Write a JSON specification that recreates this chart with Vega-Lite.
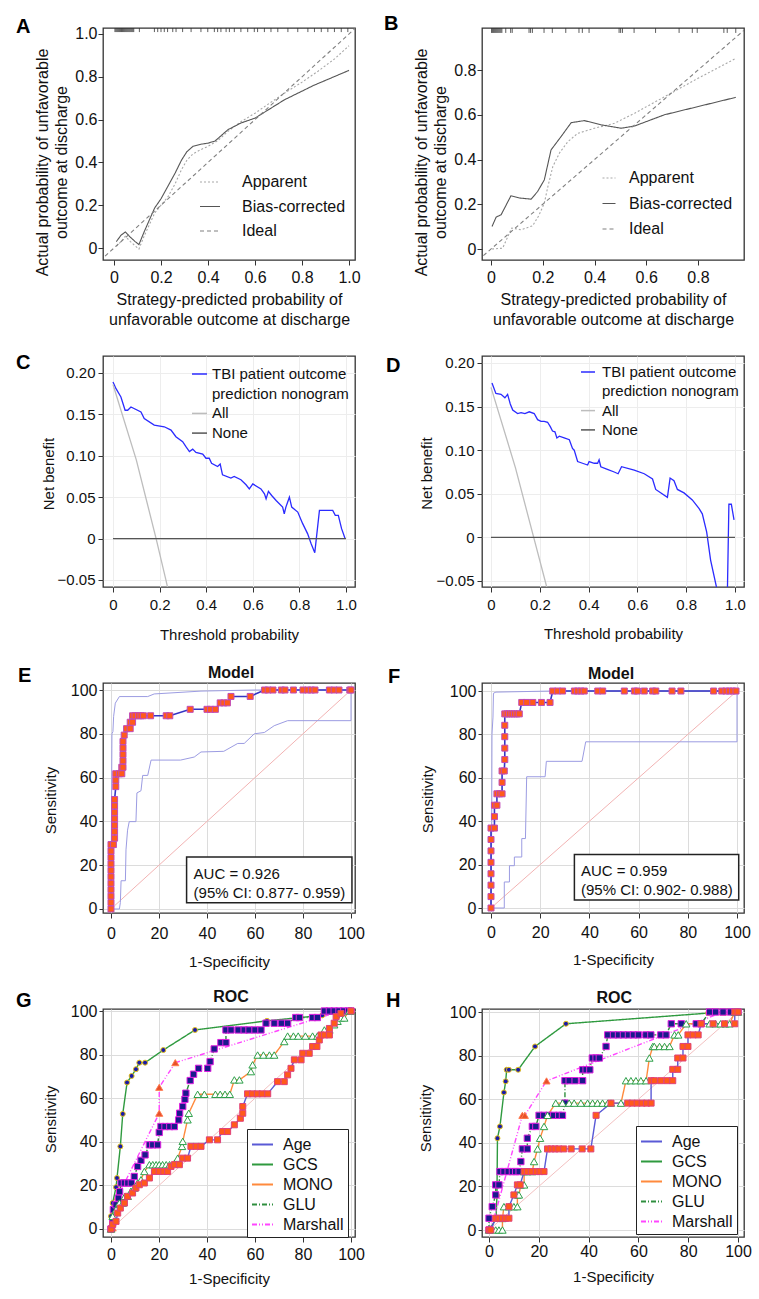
{
"$schema":"https://vega.github.io/schema/vega-lite/v6.json",
"padding":{"left":15,"top":12,"right":5,"bottom":5},
"columns":2,
"bounds":"flush",
"align":"each",
"spacing":{"row":96,"column":127},
"resolve":{"scale":{"color":"independent","strokeDash":"independent","shape":"independent","fill":"independent","stroke":"independent","size":"independent"},"legend":{"color":"independent","strokeDash":"independent","shape":"independent","fill":"independent","stroke":"independent","size":"independent"}},
"config":{
 "font":"Liberation Sans",
 "view":{"stroke":"#333333","strokeWidth":1.3},
 "axis":{"labelFont":"Liberation Sans","titleFont":"Liberation Sans","labelColor":"#111111","titleColor":"#111111","tickColor":"#333333","titleFontWeight":"normal","domain":false,"labelOverlap":false},
 "title":{"font":"Liberation Sans","fontSize":20,"fontWeight":"bold","anchor":"start","baseline":"alphabetic","offset":0,"frame":"group","color":"#000000"},
 "legend":{"labelFont":"Liberation Sans","labelColor":"#111111","labelLimit":300}
},
"datasets":{
 "calA":[
  {"s":"Apparent","x":0.01,"y":0.008},{"s":"Apparent","x":0.03,"y":0.03},{"s":"Apparent","x":0.048,"y":0.055},{"s":"Apparent","x":0.07,"y":0.03},{"s":"Apparent","x":0.09,"y":0.01},{"s":"Apparent","x":0.106,"y":-0.005},{"s":"Apparent","x":0.13,"y":0.06},{"s":"Apparent","x":0.173,"y":0.163},{"s":"Apparent","x":0.2,"y":0.2},{"s":"Apparent","x":0.23,"y":0.24},{"s":"Apparent","x":0.26,"y":0.3},{"s":"Apparent","x":0.287,"y":0.366},{"s":"Apparent","x":0.31,"y":0.41},{"s":"Apparent","x":0.336,"y":0.44},{"s":"Apparent","x":0.37,"y":0.46},{"s":"Apparent","x":0.4,"y":0.475},{"s":"Apparent","x":0.44,"y":0.5},{"s":"Apparent","x":0.485,"y":0.545},{"s":"Apparent","x":0.54,"y":0.59},{"s":"Apparent","x":0.6,"y":0.63},{"s":"Apparent","x":0.66,"y":0.675},{"s":"Apparent","x":0.726,"y":0.724},{"s":"Apparent","x":0.8,"y":0.775},{"s":"Apparent","x":0.868,"y":0.826},{"s":"Apparent","x":0.94,"y":0.885},{"s":"Apparent","x":1.0,"y":0.945},
  {"s":"Bias-corrected","x":0.01,"y":0.03},{"s":"Bias-corrected","x":0.03,"y":0.06},{"s":"Bias-corrected","x":0.048,"y":0.075},{"s":"Bias-corrected","x":0.07,"y":0.05},{"s":"Bias-corrected","x":0.09,"y":0.03},{"s":"Bias-corrected","x":0.106,"y":0.016},{"s":"Bias-corrected","x":0.13,"y":0.08},{"s":"Bias-corrected","x":0.173,"y":0.187},{"s":"Bias-corrected","x":0.2,"y":0.23},{"s":"Bias-corrected","x":0.23,"y":0.29},{"s":"Bias-corrected","x":0.26,"y":0.35},{"s":"Bias-corrected","x":0.287,"y":0.41},{"s":"Bias-corrected","x":0.31,"y":0.45},{"s":"Bias-corrected","x":0.336,"y":0.475},{"s":"Bias-corrected","x":0.37,"y":0.485},{"s":"Bias-corrected","x":0.4,"y":0.49},{"s":"Bias-corrected","x":0.43,"y":0.5},{"s":"Bias-corrected","x":0.485,"y":0.553},{"s":"Bias-corrected","x":0.54,"y":0.584},{"s":"Bias-corrected","x":0.6,"y":0.607},{"s":"Bias-corrected","x":0.726,"y":0.693},{"s":"Bias-corrected","x":0.85,"y":0.76},{"s":"Bias-corrected","x":1.0,"y":0.83},
  {"s":"Ideal","x":-0.06,"y":-0.06},{"s":"Ideal","x":1.04,"y":1.04}
 ],
 "calB":[
  {"s":"Apparent","x":0.004,"y":0.0},{"s":"Apparent","x":0.045,"y":0.004},{"s":"Apparent","x":0.08,"y":0.094},{"s":"Apparent","x":0.116,"y":0.086},{"s":"Apparent","x":0.161,"y":0.104},{"s":"Apparent","x":0.185,"y":0.15},{"s":"Apparent","x":0.206,"y":0.205},{"s":"Apparent","x":0.22,"y":0.28},{"s":"Apparent","x":0.239,"y":0.369},{"s":"Apparent","x":0.265,"y":0.43},{"s":"Apparent","x":0.297,"y":0.48},{"s":"Apparent","x":0.335,"y":0.517},{"s":"Apparent","x":0.4,"y":0.54},{"s":"Apparent","x":0.477,"y":0.562},{"s":"Apparent","x":0.555,"y":0.607},{"s":"Apparent","x":0.671,"y":0.681},{"s":"Apparent","x":0.8,"y":0.763},{"s":"Apparent","x":0.946,"y":0.852},
  {"s":"Bias-corrected","x":0.004,"y":0.101},{"s":"Bias-corrected","x":0.02,"y":0.143},{"s":"Bias-corrected","x":0.039,"y":0.153},{"s":"Bias-corrected","x":0.077,"y":0.238},{"s":"Bias-corrected","x":0.11,"y":0.228},{"s":"Bias-corrected","x":0.155,"y":0.223},{"s":"Bias-corrected","x":0.18,"y":0.257},{"s":"Bias-corrected","x":0.206,"y":0.309},{"s":"Bias-corrected","x":0.232,"y":0.443},{"s":"Bias-corrected","x":0.271,"y":0.503},{"s":"Bias-corrected","x":0.31,"y":0.565},{"s":"Bias-corrected","x":0.361,"y":0.574},{"s":"Bias-corrected","x":0.426,"y":0.555},{"s":"Bias-corrected","x":0.503,"y":0.54},{"s":"Bias-corrected","x":0.555,"y":0.55},{"s":"Bias-corrected","x":0.67,"y":0.6},{"s":"Bias-corrected","x":0.946,"y":0.678},
  {"s":"Ideal","x":-0.05,"y":-0.05},{"s":"Ideal","x":1.0,"y":1.0}
 ],
 "rugA":[{"x":0.004},{"x":0.008},{"x":0.012},{"x":0.016},{"x":0.02},{"x":0.024},{"x":0.028},{"x":0.032},{"x":0.036},{"x":0.04},{"x":0.044},{"x":0.048},{"x":0.052},{"x":0.056},{"x":0.06},{"x":0.064},{"x":0.068},{"x":0.072},{"x":0.076},{"x":0.08},{"x":0.084},{"x":0.108},{"x":0.172},{"x":0.186},{"x":0.2},{"x":0.214},{"x":0.228},{"x":0.25},{"x":0.264},{"x":0.292},{"x":0.328},{"x":0.37},{"x":0.399},{"x":0.427},{"x":0.441},{"x":0.455},{"x":0.477},{"x":0.491},{"x":0.512},{"x":0.54},{"x":0.569},{"x":0.597},{"x":0.611},{"x":0.64},{"x":0.668},{"x":0.697},{"x":0.74},{"x":0.782},{"x":0.825},{"x":0.853},{"x":0.882},{"x":0.91},{"x":0.938},{"x":0.967},{"x":0.995}],
 "rugB":[{"x":0.002},{"x":0.006},{"x":0.01},{"x":0.014},{"x":0.018},{"x":0.022},{"x":0.026},{"x":0.03},{"x":0.034},{"x":0.038},{"x":0.042},{"x":0.057},{"x":0.076},{"x":0.082},{"x":0.147},{"x":0.153},{"x":0.16},{"x":0.205},{"x":0.237},{"x":0.289},{"x":0.34},{"x":0.353},{"x":0.379},{"x":0.495},{"x":0.501},{"x":0.508},{"x":0.553},{"x":0.636},{"x":0.727},{"x":0.778},{"x":0.797},{"x":0.9},{"x":0.913},{"x":0.946}],
 "netC":[
  {"s":"TBI patient outcome prediction nonogram","x":0,"y":0.189},{"s":"TBI patient outcome prediction nonogram","x":0.013,"y":0.181},{"s":"TBI patient outcome prediction nonogram","x":0.034,"y":0.171},{"s":"TBI patient outcome prediction nonogram","x":0.052,"y":0.155},{"s":"TBI patient outcome prediction nonogram","x":0.063,"y":0.155},{"s":"TBI patient outcome prediction nonogram","x":0.077,"y":0.159},{"s":"TBI patient outcome prediction nonogram","x":0.12,"y":0.153},{"s":"TBI patient outcome prediction nonogram","x":0.134,"y":0.145},{"s":"TBI patient outcome prediction nonogram","x":0.177,"y":0.137},{"s":"TBI patient outcome prediction nonogram","x":0.22,"y":0.135},{"s":"TBI patient outcome prediction nonogram","x":0.249,"y":0.131},{"s":"TBI patient outcome prediction nonogram","x":0.27,"y":0.123},{"s":"TBI patient outcome prediction nonogram","x":0.299,"y":0.117},{"s":"TBI patient outcome prediction nonogram","x":0.313,"y":0.111},{"s":"TBI patient outcome prediction nonogram","x":0.328,"y":0.105},{"s":"TBI patient outcome prediction nonogram","x":0.342,"y":0.108},{"s":"TBI patient outcome prediction nonogram","x":0.356,"y":0.104},{"s":"TBI patient outcome prediction nonogram","x":0.385,"y":0.102},{"s":"TBI patient outcome prediction nonogram","x":0.399,"y":0.097},{"s":"TBI patient outcome prediction nonogram","x":0.413,"y":0.097},{"s":"TBI patient outcome prediction nonogram","x":0.423,"y":0.091},{"s":"TBI patient outcome prediction nonogram","x":0.449,"y":0.087},{"s":"TBI patient outcome prediction nonogram","x":0.46,"y":0.09},{"s":"TBI patient outcome prediction nonogram","x":0.47,"y":0.077},{"s":"TBI patient outcome prediction nonogram","x":0.506,"y":0.073},{"s":"TBI patient outcome prediction nonogram","x":0.52,"y":0.075},{"s":"TBI patient outcome prediction nonogram","x":0.549,"y":0.071},{"s":"TBI patient outcome prediction nonogram","x":0.571,"y":0.065},{"s":"TBI patient outcome prediction nonogram","x":0.585,"y":0.06},{"s":"TBI patient outcome prediction nonogram","x":0.6,"y":0.066},{"s":"TBI patient outcome prediction nonogram","x":0.635,"y":0.06},{"s":"TBI patient outcome prediction nonogram","x":0.65,"y":0.054},{"s":"TBI patient outcome prediction nonogram","x":0.657,"y":0.048},{"s":"TBI patient outcome prediction nonogram","x":0.667,"y":0.057},{"s":"TBI patient outcome prediction nonogram","x":0.681,"y":0.052},{"s":"TBI patient outcome prediction nonogram","x":0.7,"y":0.046},{"s":"TBI patient outcome prediction nonogram","x":0.728,"y":0.038},{"s":"TBI patient outcome prediction nonogram","x":0.735,"y":0.03},{"s":"TBI patient outcome prediction nonogram","x":0.742,"y":0.038},{"s":"TBI patient outcome prediction nonogram","x":0.757,"y":0.05},{"s":"TBI patient outcome prediction nonogram","x":0.767,"y":0.038},{"s":"TBI patient outcome prediction nonogram","x":0.793,"y":0.032},{"s":"TBI patient outcome prediction nonogram","x":0.814,"y":0.018},{"s":"TBI patient outcome prediction nonogram","x":0.835,"y":0.006},{"s":"TBI patient outcome prediction nonogram","x":0.85,"y":-0.006},{"s":"TBI patient outcome prediction nonogram","x":0.866,"y":-0.017},{"s":"TBI patient outcome prediction nonogram","x":0.886,"y":0.034},{"s":"TBI patient outcome prediction nonogram","x":0.943,"y":0.034},{"s":"TBI patient outcome prediction nonogram","x":0.954,"y":0.028},{"s":"TBI patient outcome prediction nonogram","x":0.967,"y":0.028},{"s":"TBI patient outcome prediction nonogram","x":0.981,"y":0.012},{"s":"TBI patient outcome prediction nonogram","x":0.996,"y":0.0},
  {"s":"All","x":0,"y":0.186},{"s":"All","x":0.1,"y":0.095},{"s":"All","x":0.185,"y":0.0},{"s":"All","x":0.227,"y":-0.05},{"s":"All","x":0.24,"y":-0.066},
  {"s":"None","x":0,"y":0},{"s":"None","x":1.0,"y":0}
 ],
 "netD":[
  {"s":"TBI patient outcome prediction nonogram","x":0.004,"y":0.177},{"s":"TBI patient outcome prediction nonogram","x":0.02,"y":0.165},{"s":"TBI patient outcome prediction nonogram","x":0.041,"y":0.164},{"s":"TBI patient outcome prediction nonogram","x":0.057,"y":0.16},{"s":"TBI patient outcome prediction nonogram","x":0.068,"y":0.164},{"s":"TBI patient outcome prediction nonogram","x":0.079,"y":0.153},{"s":"TBI patient outcome prediction nonogram","x":0.089,"y":0.146},{"s":"TBI patient outcome prediction nonogram","x":0.109,"y":0.142},{"s":"TBI patient outcome prediction nonogram","x":0.123,"y":0.143},{"s":"TBI patient outcome prediction nonogram","x":0.139,"y":0.142},{"s":"TBI patient outcome prediction nonogram","x":0.157,"y":0.144},{"s":"TBI patient outcome prediction nonogram","x":0.177,"y":0.142},{"s":"TBI patient outcome prediction nonogram","x":0.191,"y":0.135},{"s":"TBI patient outcome prediction nonogram","x":0.205,"y":0.133},{"s":"TBI patient outcome prediction nonogram","x":0.218,"y":0.133},{"s":"TBI patient outcome prediction nonogram","x":0.232,"y":0.132},{"s":"TBI patient outcome prediction nonogram","x":0.243,"y":0.127},{"s":"TBI patient outcome prediction nonogram","x":0.252,"y":0.122},{"s":"TBI patient outcome prediction nonogram","x":0.262,"y":0.121},{"s":"TBI patient outcome prediction nonogram","x":0.27,"y":0.114},{"s":"TBI patient outcome prediction nonogram","x":0.28,"y":0.116},{"s":"TBI patient outcome prediction nonogram","x":0.3,"y":0.114},{"s":"TBI patient outcome prediction nonogram","x":0.321,"y":0.112},{"s":"TBI patient outcome prediction nonogram","x":0.334,"y":0.102},{"s":"TBI patient outcome prediction nonogram","x":0.341,"y":0.1},{"s":"TBI patient outcome prediction nonogram","x":0.355,"y":0.087},{"s":"TBI patient outcome prediction nonogram","x":0.375,"y":0.085},{"s":"TBI patient outcome prediction nonogram","x":0.396,"y":0.083},{"s":"TBI patient outcome prediction nonogram","x":0.402,"y":0.087},{"s":"TBI patient outcome prediction nonogram","x":0.423,"y":0.085},{"s":"TBI patient outcome prediction nonogram","x":0.437,"y":0.085},{"s":"TBI patient outcome prediction nonogram","x":0.443,"y":0.089},{"s":"TBI patient outcome prediction nonogram","x":0.45,"y":0.081},{"s":"TBI patient outcome prediction nonogram","x":0.477,"y":0.078},{"s":"TBI patient outcome prediction nonogram","x":0.505,"y":0.075},{"s":"TBI patient outcome prediction nonogram","x":0.521,"y":0.073},{"s":"TBI patient outcome prediction nonogram","x":0.535,"y":0.081},{"s":"TBI patient outcome prediction nonogram","x":0.587,"y":0.077},{"s":"TBI patient outcome prediction nonogram","x":0.628,"y":0.073},{"s":"TBI patient outcome prediction nonogram","x":0.662,"y":0.067},{"s":"TBI patient outcome prediction nonogram","x":0.675,"y":0.055},{"s":"TBI patient outcome prediction nonogram","x":0.723,"y":0.046},{"s":"TBI patient outcome prediction nonogram","x":0.734,"y":0.068},{"s":"TBI patient outcome prediction nonogram","x":0.75,"y":0.065},{"s":"TBI patient outcome prediction nonogram","x":0.764,"y":0.055},{"s":"TBI patient outcome prediction nonogram","x":0.791,"y":0.051},{"s":"TBI patient outcome prediction nonogram","x":0.825,"y":0.043},{"s":"TBI patient outcome prediction nonogram","x":0.853,"y":0.033},{"s":"TBI patient outcome prediction nonogram","x":0.866,"y":0.027},{"s":"TBI patient outcome prediction nonogram","x":0.884,"y":0.006},{"s":"TBI patient outcome prediction nonogram","x":0.9,"y":-0.026},{"s":"TBI patient outcome prediction nonogram","x":0.928,"y":-0.062},{"s":"TBI patient outcome prediction nonogram","x":0.945,"y":-0.1},{"s":"TBI patient outcome prediction nonogram","x":0.965,"y":-0.1},{"s":"TBI patient outcome prediction nonogram","x":0.969,"y":-0.06},{"s":"TBI patient outcome prediction nonogram","x":0.975,"y":0.038},{"s":"TBI patient outcome prediction nonogram","x":0.985,"y":0.038},{"s":"TBI patient outcome prediction nonogram","x":0.996,"y":0.02},
  {"s":"All","x":0,"y":0.172},{"s":"All","x":0.1,"y":0.08},{"s":"All","x":0.175,"y":0.0},{"s":"All","x":0.222,"y":-0.05},{"s":"All","x":0.235,"y":-0.064},
  {"s":"None","x":0,"y":0},{"s":"None","x":1.0,"y":0}
 ],
 "diag":[{"x":0,"y":0},{"x":100,"y":100}],
 "rocE":[{"x":0,"y":0},{"x":0,"y":2.94},{"x":0,"y":5.88},{"x":0,"y":8.82},{"x":0,"y":11.76},{"x":0,"y":14.71},{"x":0,"y":17.65},{"x":0,"y":20.59},{"x":0,"y":23.53},{"x":0,"y":26.47},{"x":0,"y":29.41},{"x":1.0,"y":29.41},{"x":1.5,"y":32.35},{"x":1.5,"y":35.29},{"x":1.5,"y":38.24},{"x":1.5,"y":41.18},{"x":1.5,"y":44.12},{"x":1.5,"y":47.06},{"x":1.5,"y":50},{"x":2.0,"y":55.88},{"x":2.0,"y":58.82},{"x":2.0,"y":61.76},{"x":3.5,"y":61.76},{"x":4.5,"y":61.76},{"x":4.5,"y":64.71},{"x":5.0,"y":64.71},{"x":5.0,"y":67.65},{"x":5.0,"y":70.59},{"x":5.0,"y":73.53},{"x":5.0,"y":76.47},{"x":5.5,"y":79.41},{"x":6.5,"y":82.35},{"x":8.0,"y":82.35},{"x":8.0,"y":85.29},{"x":9.0,"y":85.29},{"x":9.0,"y":88.24},{"x":10,"y":88.24},{"x":11.5,"y":88.24},{"x":12.5,"y":88.24},{"x":13.5,"y":88.24},{"x":16.5,"y":88.24},{"x":23,"y":88.24},{"x":24.5,"y":88.24},{"x":33,"y":91.18},{"x":40,"y":91.18},{"x":41.5,"y":91.18},{"x":43.5,"y":91.18},{"x":45.5,"y":94.12},{"x":47,"y":94.12},{"x":48.5,"y":94.12},{"x":50,"y":97.06},{"x":58,"y":97.06},{"x":64,"y":100},{"x":65.5,"y":100},{"x":67.5,"y":100},{"x":71,"y":100},{"x":72.5,"y":100},{"x":76,"y":100},{"x":80,"y":100},{"x":82,"y":100},{"x":83.5,"y":100},{"x":85,"y":100},{"x":91,"y":100},{"x":93,"y":100},{"x":95,"y":100},{"x":99.5,"y":100},{"x":100,"y":100}],
 "ciE":[{"b":"upper","x":0,"y":0},{"b":"upper","x":0.2,"y":40},{"b":"upper","x":0.4,"y":80},{"b":"upper","x":0.8,"y":81},{"b":"upper","x":1.1,"y":88},{"b":"upper","x":1.8,"y":94},{"b":"upper","x":3.5,"y":97},{"b":"upper","x":15.3,"y":97},{"b":"upper","x":18,"y":98.2},{"b":"upper","x":37.5,"y":99.5},{"b":"upper","x":60,"y":100},{"b":"upper","x":100,"y":100},
  {"b":"lower","x":0,"y":0},{"b":"lower","x":3.5,"y":0},{"b":"lower","x":3.9,"y":2.9},{"b":"lower","x":4.2,"y":12.9},{"b":"lower","x":6,"y":12.9},{"b":"lower","x":6.25,"y":27},{"b":"lower","x":6.9,"y":36},{"b":"lower","x":7.6,"y":39.9},{"b":"lower","x":10.4,"y":39.9},{"b":"lower","x":10.8,"y":53},{"b":"lower","x":12.5,"y":54},{"b":"lower","x":13.2,"y":61},{"b":"lower","x":15.3,"y":61},{"b":"lower","x":16.7,"y":68},{"b":"lower","x":29,"y":68},{"b":"lower","x":34.7,"y":69.4},{"b":"lower","x":37.5,"y":71.7},{"b":"lower","x":47,"y":72},{"b":"lower","x":52.8,"y":75.6},{"b":"lower","x":55.5,"y":75.6},{"b":"lower","x":59.7,"y":80},{"b":"lower","x":63.9,"y":80.6},{"b":"lower","x":68,"y":83.7},{"b":"lower","x":73.6,"y":86},{"b":"lower","x":100,"y":86},{"b":"lower","x":100,"y":100}],
 "rocF":[{"x":0,"y":0},{"x":0,"y":5.26},{"x":0,"y":10.53},{"x":0,"y":15.79},{"x":0,"y":21.05},{"x":0,"y":26.32},{"x":0,"y":31.58},{"x":0,"y":36.84},{"x":1.4,"y":36.84},{"x":1.4,"y":42.11},{"x":1.4,"y":47.37},{"x":2.4,"y":47.37},{"x":2.4,"y":52.63},{"x":3.5,"y":52.63},{"x":4.5,"y":52.63},{"x":4.5,"y":57.89},{"x":4.5,"y":63.16},{"x":5.4,"y":63.16},{"x":5.6,"y":68.42},{"x":5.6,"y":73.68},{"x":5.6,"y":78.95},{"x":5.6,"y":84.21},{"x":5.6,"y":89.47},{"x":6.5,"y":89.47},{"x":7.5,"y":89.47},{"x":8.5,"y":89.47},{"x":9.5,"y":89.47},{"x":10.5,"y":89.47},{"x":11.5,"y":89.47},{"x":12.5,"y":94.74},{"x":14.5,"y":94.74},{"x":17,"y":94.74},{"x":20.5,"y":94.74},{"x":24,"y":94.74},{"x":25.1,"y":100},{"x":27.1,"y":100},{"x":29.1,"y":100},{"x":33.9,"y":100},{"x":35.2,"y":100},{"x":36.6,"y":100},{"x":37.9,"y":100},{"x":43.4,"y":100},{"x":45.4,"y":100},{"x":54.2,"y":100},{"x":58.3,"y":100},{"x":59.5,"y":100},{"x":62.3,"y":100},{"x":65.7,"y":100},{"x":67,"y":100},{"x":73.6,"y":100},{"x":77.2,"y":100},{"x":90.5,"y":100},{"x":93.8,"y":100},{"x":95.5,"y":100},{"x":96.9,"y":100},{"x":98.2,"y":100},{"x":99.6,"y":100}],
 "ciF":[{"b":"upper","x":0,"y":0},{"b":"upper","x":0.3,"y":40},{"b":"upper","x":0.4,"y":80},{"b":"upper","x":0.8,"y":88},{"b":"upper","x":1.0,"y":99},{"b":"upper","x":2,"y":99.5},{"b":"upper","x":25,"y":100},{"b":"upper","x":100,"y":100},
  {"b":"lower","x":0,"y":0},{"b":"lower","x":5.4,"y":0},{"b":"lower","x":5.4,"y":12},{"b":"lower","x":7.5,"y":12},{"b":"lower","x":7.5,"y":19.5},{"b":"lower","x":9.5,"y":19.5},{"b":"lower","x":9.5,"y":23.5},{"b":"lower","x":12.5,"y":23.5},{"b":"lower","x":12.5,"y":32},{"b":"lower","x":14,"y":32},{"b":"lower","x":14.5,"y":60.5},{"b":"lower","x":22,"y":60.5},{"b":"lower","x":22.5,"y":67.6},{"b":"lower","x":37,"y":67.6},{"b":"lower","x":38.5,"y":76.6},{"b":"lower","x":100,"y":76.6},{"b":"lower","x":100,"y":100}],
 "rocG":[
  {"s":"GCS","x":0,"y":0},{"s":"GCS","x":0,"y":5.9},{"s":"GCS","x":0.7,"y":11.9},{"s":"GCS","x":2.1,"y":19.2},{"s":"GCS","x":2.5,"y":23.4},{"s":"GCS","x":3.9,"y":37.9},{"s":"GCS","x":4.9,"y":52.8},{"s":"GCS","x":6.7,"y":67.2},{"s":"GCS","x":8.6,"y":70.2},{"s":"GCS","x":10.4,"y":73.3},{"s":"GCS","x":11.8,"y":76.3},{"s":"GCS","x":14.2,"y":76.3},{"s":"GCS","x":21.8,"y":82.1},{"s":"GCS","x":35,"y":91.3},{"s":"GCS","x":65,"y":95.5},{"s":"GCS","x":88,"y":98},{"s":"GCS","x":100,"y":100},
  {"s":"Marshall","x":0,"y":0},{"s":"Marshall","x":0.7,"y":0.5},{"s":"Marshall","x":2.8,"y":14.8},{"s":"Marshall","x":20.1,"y":53.1},{"s":"Marshall","x":20.1,"y":65},{"s":"Marshall","x":26.8,"y":76.3},{"s":"Marshall","x":95.8,"y":100},{"s":"Marshall","x":100,"y":100},
  {"s":"GLU","x":0,"y":0},{"s":"GLU","x":0.7,"y":2.7},{"s":"GLU","x":1,"y":8.9},{"s":"GLU","x":2.1,"y":11.1},{"s":"GLU","x":3.1,"y":14.2},{"s":"GLU","x":3.6,"y":17.1},{"s":"GLU","x":4.2,"y":21.1},{"s":"GLU","x":5.6,"y":21.1},{"s":"GLU","x":7,"y":21.1},{"s":"GLU","x":8.5,"y":21.1},{"s":"GLU","x":9.7,"y":24.1},{"s":"GLU","x":11.1,"y":28.7},{"s":"GLU","x":12.5,"y":31.5},{"s":"GLU","x":14.2,"y":34},{"s":"GLU","x":16,"y":38.6},{"s":"GLU","x":17.4,"y":38.6},{"s":"GLU","x":19.4,"y":38.6},{"s":"GLU","x":20.1,"y":44.3},{"s":"GLU","x":20.8,"y":47},{"s":"GLU","x":22.5,"y":47},{"s":"GLU","x":24.5,"y":47},{"s":"GLU","x":26.4,"y":47},{"s":"GLU","x":28.2,"y":50},{"s":"GLU","x":28.6,"y":53.1},{"s":"GLU","x":29.9,"y":56.2},{"s":"GLU","x":30.8,"y":59.5},{"s":"GLU","x":31.2,"y":62.3},{"s":"GLU","x":33,"y":68.1},{"s":"GLU","x":34.4,"y":71},{"s":"GLU","x":36.5,"y":73.7},{"s":"GLU","x":40.3,"y":73.7},{"s":"GLU","x":41.3,"y":76.8},{"s":"GLU","x":43,"y":82.6},{"s":"GLU","x":45.8,"y":85.5},{"s":"GLU","x":47.9,"y":85.5},{"s":"GLU","x":47.9,"y":91.3},{"s":"GLU","x":50,"y":91.3},{"s":"GLU","x":53,"y":91.3},{"s":"GLU","x":55.5,"y":91.3},{"s":"GLU","x":57.5,"y":91.3},{"s":"GLU","x":60,"y":91.3},{"s":"GLU","x":62.5,"y":91.3},{"s":"GLU","x":64.6,"y":94.4},{"s":"GLU","x":68,"y":94.4},{"s":"GLU","x":71,"y":94.4},{"s":"GLU","x":73.6,"y":94.4},{"s":"GLU","x":77,"y":97},{"s":"GLU","x":78.5,"y":97},{"s":"GLU","x":84,"y":97},{"s":"GLU","x":86,"y":97},{"s":"GLU","x":88.9,"y":100},{"s":"GLU","x":91,"y":100},{"s":"GLU","x":93,"y":100},{"s":"GLU","x":95,"y":100},{"s":"GLU","x":97,"y":100},{"s":"GLU","x":99,"y":100},{"s":"GLU","x":100,"y":100},
  {"s":"MONO","x":0,"y":0},{"s":"MONO","x":0.7,"y":5.8},{"s":"MONO","x":2.1,"y":8.9},{"s":"MONO","x":3.5,"y":11.9},{"s":"MONO","x":4.9,"y":11.9},{"s":"MONO","x":5.8,"y":15},{"s":"MONO","x":7,"y":15},{"s":"MONO","x":8.3,"y":17.3},{"s":"MONO","x":9.7,"y":18.8},{"s":"MONO","x":11.1,"y":21.1},{"s":"MONO","x":12.5,"y":22.6},{"s":"MONO","x":13.9,"y":26.4},{"s":"MONO","x":16,"y":29.5},{"s":"MONO","x":17.4,"y":29.5},{"s":"MONO","x":18.8,"y":29.5},{"s":"MONO","x":20.1,"y":29.5},{"s":"MONO","x":21.5,"y":29.5},{"s":"MONO","x":23,"y":29.5},{"s":"MONO","x":24.4,"y":29.5},{"s":"MONO","x":27.8,"y":32.5},{"s":"MONO","x":29.6,"y":37.9},{"s":"MONO","x":29.9,"y":40.2},{"s":"MONO","x":31.9,"y":50.1},{"s":"MONO","x":32.4,"y":53.1},{"s":"MONO","x":36.1,"y":61.8},{"s":"MONO","x":38.9,"y":61.8},{"s":"MONO","x":43.5,"y":61.8},{"s":"MONO","x":45.5,"y":61.8},{"s":"MONO","x":47.5,"y":61.8},{"s":"MONO","x":49.5,"y":61.8},{"s":"MONO","x":51.4,"y":68.4},{"s":"MONO","x":53.5,"y":68.4},{"s":"MONO","x":58.3,"y":72.2},{"s":"MONO","x":59,"y":75.3},{"s":"MONO","x":61.1,"y":79.8},{"s":"MONO","x":63.5,"y":79.8},{"s":"MONO","x":66,"y":79.8},{"s":"MONO","x":68,"y":79.8},{"s":"MONO","x":72.2,"y":86},{"s":"MONO","x":73.6,"y":88.5},{"s":"MONO","x":76,"y":88.5},{"s":"MONO","x":78,"y":88.5},{"s":"MONO","x":81,"y":88.5},{"s":"MONO","x":84,"y":88.5},{"s":"MONO","x":86,"y":88.5},{"s":"MONO","x":88.9,"y":91.3},{"s":"MONO","x":91,"y":91.3},{"s":"MONO","x":93,"y":93.7},{"s":"MONO","x":94.4,"y":95.3},{"s":"MONO","x":95.8,"y":96.8},{"s":"MONO","x":97.2,"y":96.8},{"s":"MONO","x":99.3,"y":100},{"s":"MONO","x":100,"y":100},
  {"s":"Age","x":0,"y":0},{"s":"Age","x":0.7,"y":2},{"s":"Age","x":2.1,"y":3.5},{"s":"Age","x":2.8,"y":7.3},{"s":"Age","x":3.9,"y":9.6},{"s":"Age","x":5.6,"y":11.9},{"s":"Age","x":6.9,"y":15},{"s":"Age","x":9,"y":16.5},{"s":"Age","x":10.4,"y":18.8},{"s":"Age","x":11.8,"y":20.3},{"s":"Age","x":13.9,"y":21.1},{"s":"Age","x":16,"y":23.4},{"s":"Age","x":18.1,"y":26.4},{"s":"Age","x":20.1,"y":26.4},{"s":"Age","x":22,"y":26.4},{"s":"Age","x":23.6,"y":26.4},{"s":"Age","x":25,"y":28.7},{"s":"Age","x":26.4,"y":29.5},{"s":"Age","x":28.5,"y":29.5},{"s":"Age","x":29.9,"y":32.5},{"s":"Age","x":31.9,"y":32.5},{"s":"Age","x":33.3,"y":37.9},{"s":"Age","x":35.5,"y":37.9},{"s":"Age","x":37.5,"y":37.9},{"s":"Age","x":41,"y":40.9},{"s":"Age","x":44.4,"y":40.9},{"s":"Age","x":46.5,"y":44.7},{"s":"Age","x":48.6,"y":44.7},{"s":"Age","x":51.4,"y":47.8},{"s":"Age","x":53.9,"y":50.8},{"s":"Age","x":54.9,"y":53.1},{"s":"Age","x":54.9,"y":56.2},{"s":"Age","x":56.9,"y":62},{"s":"Age","x":59,"y":62},{"s":"Age","x":61,"y":62},{"s":"Age","x":63,"y":62},{"s":"Age","x":65.3,"y":62},{"s":"Age","x":69.4,"y":67.6},{"s":"Age","x":72.2,"y":67.6},{"s":"Age","x":73.6,"y":70.7},{"s":"Age","x":75,"y":73.7},{"s":"Age","x":76.4,"y":77.6},{"s":"Age","x":79.2,"y":77.6},{"s":"Age","x":79.9,"y":80.6},{"s":"Age","x":82.6,"y":80.6},{"s":"Age","x":84,"y":83.7},{"s":"Age","x":85.8,"y":83.7},{"s":"Age","x":86.8,"y":86.7},{"s":"Age","x":87.5,"y":89},{"s":"Age","x":89,"y":89},{"s":"Age","x":91,"y":89},{"s":"Age","x":91,"y":92},{"s":"Age","x":93,"y":94.4},{"s":"Age","x":93.8,"y":97.4},{"s":"Age","x":95.8,"y":98.9},{"s":"Age","x":100,"y":100}
 ],
 "rocH":[
  {"s":"GCS","x":0,"y":0},{"s":"GCS","x":2.8,"y":5},{"s":"GCS","x":3.2,"y":15.8},{"s":"GCS","x":3.4,"y":42.1},{"s":"GCS","x":4.4,"y":47.5},{"s":"GCS","x":6,"y":63.1},{"s":"GCS","x":6.7,"y":68.2},{"s":"GCS","x":7.1,"y":73.5},{"s":"GCS","x":8,"y":73.5},{"s":"GCS","x":11.7,"y":73.5},{"s":"GCS","x":18.5,"y":84.2},{"s":"GCS","x":30.9,"y":94.6},{"s":"GCS","x":88,"y":99.5},{"s":"GCS","x":100,"y":100},
  {"s":"Marshall","x":0,"y":0},{"s":"Marshall","x":2,"y":5.3},{"s":"Marshall","x":13.4,"y":52.6},{"s":"Marshall","x":14.4,"y":52.6},{"s":"Marshall","x":23.1,"y":68.4},{"s":"Marshall","x":94,"y":100},{"s":"Marshall","x":100,"y":100},
  {"s":"GLU","x":0,"y":0},{"s":"GLU","x":0,"y":5.4},{"s":"GLU","x":1.3,"y":10.7},{"s":"GLU","x":2.7,"y":16.1},{"s":"GLU","x":2.7,"y":20.7},{"s":"GLU","x":4,"y":20.7},{"s":"GLU","x":4.4,"y":26.8},{"s":"GLU","x":6,"y":26.8},{"s":"GLU","x":7.7,"y":26.8},{"s":"GLU","x":9.4,"y":26.8},{"s":"GLU","x":10.7,"y":26.8},{"s":"GLU","x":12.1,"y":26.8},{"s":"GLU","x":12.8,"y":31.4},{"s":"GLU","x":13.4,"y":37.2},{"s":"GLU","x":15.4,"y":37.2},{"s":"GLU","x":15.4,"y":42.1},{"s":"GLU","x":17.4,"y":47.5},{"s":"GLU","x":18.8,"y":47.5},{"s":"GLU","x":20.1,"y":52.6},{"s":"GLU","x":22,"y":52.6},{"s":"GLU","x":24,"y":52.6},{"s":"GLU","x":26,"y":52.6},{"s":"GLU","x":28,"y":52.6},{"s":"GLU","x":29.5,"y":52.6},{"s":"GLU","x":30.5,"y":58.2},{"s":"GLU","x":30.5,"y":68.5},{"s":"GLU","x":32.2,"y":68.5},{"s":"GLU","x":34.6,"y":68.5},{"s":"GLU","x":37.6,"y":68.5},{"s":"GLU","x":37.6,"y":73.5},{"s":"GLU","x":39,"y":73.5},{"s":"GLU","x":40.5,"y":73.5},{"s":"GLU","x":41.5,"y":78.9},{"s":"GLU","x":43,"y":78.9},{"s":"GLU","x":44.3,"y":78.9},{"s":"GLU","x":47,"y":84.2},{"s":"GLU","x":47.7,"y":89.5},{"s":"GLU","x":50,"y":89.5},{"s":"GLU","x":52,"y":89.5},{"s":"GLU","x":54,"y":89.5},{"s":"GLU","x":56,"y":89.5},{"s":"GLU","x":58,"y":89.5},{"s":"GLU","x":60,"y":89.5},{"s":"GLU","x":63,"y":89.5},{"s":"GLU","x":65,"y":89.5},{"s":"GLU","x":69,"y":89.5},{"s":"GLU","x":71.1,"y":89.5},{"s":"GLU","x":73.2,"y":94.6},{"s":"GLU","x":77.2,"y":94.6},{"s":"GLU","x":83.2,"y":94.6},{"s":"GLU","x":85.2,"y":94.6},{"s":"GLU","x":88.6,"y":100},{"s":"GLU","x":91,"y":100},{"s":"GLU","x":94,"y":100},{"s":"GLU","x":97,"y":100},{"s":"GLU","x":100,"y":100},
  {"s":"MONO","x":0,"y":0},{"s":"MONO","x":2.7,"y":0},{"s":"MONO","x":4,"y":0},{"s":"MONO","x":5.4,"y":0},{"s":"MONO","x":5.4,"y":5.3},{"s":"MONO","x":6,"y":10.7},{"s":"MONO","x":8,"y":10.7},{"s":"MONO","x":10,"y":10.7},{"s":"MONO","x":11.4,"y":10.7},{"s":"MONO","x":11.4,"y":16.1},{"s":"MONO","x":12,"y":16.1},{"s":"MONO","x":12.8,"y":20.7},{"s":"MONO","x":14.1,"y":20.7},{"s":"MONO","x":14.1,"y":26.8},{"s":"MONO","x":15.4,"y":26.8},{"s":"MONO","x":17.4,"y":26.8},{"s":"MONO","x":18.1,"y":31.4},{"s":"MONO","x":19.5,"y":37.2},{"s":"MONO","x":20.5,"y":42.1},{"s":"MONO","x":22.1,"y":47.5},{"s":"MONO","x":23.5,"y":52.6},{"s":"MONO","x":26.8,"y":58.2},{"s":"MONO","x":29.5,"y":58.2},{"s":"MONO","x":32.2,"y":58.2},{"s":"MONO","x":34.2,"y":58.2},{"s":"MONO","x":36.9,"y":58.2},{"s":"MONO","x":39.6,"y":58.2},{"s":"MONO","x":41.6,"y":58.2},{"s":"MONO","x":43.6,"y":58.2},{"s":"MONO","x":45.6,"y":58.2},{"s":"MONO","x":47.7,"y":58.2},{"s":"MONO","x":49,"y":58.2},{"s":"MONO","x":53,"y":58.2},{"s":"MONO","x":55,"y":68.5},{"s":"MONO","x":57,"y":68.5},{"s":"MONO","x":59,"y":68.5},{"s":"MONO","x":61,"y":68.5},{"s":"MONO","x":63.1,"y":68.5},{"s":"MONO","x":64.4,"y":78.9},{"s":"MONO","x":65.8,"y":84.2},{"s":"MONO","x":66.4,"y":84.2},{"s":"MONO","x":68.5,"y":84.2},{"s":"MONO","x":70.5,"y":84.2},{"s":"MONO","x":72.5,"y":84.2},{"s":"MONO","x":74.5,"y":89.5},{"s":"MONO","x":76,"y":89.5},{"s":"MONO","x":79.2,"y":94.6},{"s":"MONO","x":88.6,"y":94.6},{"s":"MONO","x":91,"y":94.6},{"s":"MONO","x":93,"y":94.6},{"s":"MONO","x":95,"y":94.6},{"s":"MONO","x":96.6,"y":94.6},{"s":"MONO","x":98.7,"y":100},{"s":"MONO","x":100,"y":100},
  {"s":"Age","x":0,"y":0},{"s":"Age","x":0.7,"y":0},{"s":"Age","x":2.7,"y":5.4},{"s":"Age","x":4,"y":5.4},{"s":"Age","x":5.4,"y":5.4},{"s":"Age","x":6.7,"y":5.4},{"s":"Age","x":8,"y":5.4},{"s":"Age","x":8,"y":10.7},{"s":"Age","x":10,"y":16.1},{"s":"Age","x":11.4,"y":20.7},{"s":"Age","x":12.5,"y":20.7},{"s":"Age","x":14.1,"y":26.8},{"s":"Age","x":15.4,"y":26.8},{"s":"Age","x":17,"y":26.8},{"s":"Age","x":19,"y":26.8},{"s":"Age","x":20.5,"y":26.8},{"s":"Age","x":22.1,"y":26.8},{"s":"Age","x":23.5,"y":37.2},{"s":"Age","x":25,"y":37.2},{"s":"Age","x":26.5,"y":37.2},{"s":"Age","x":28,"y":37.2},{"s":"Age","x":30,"y":37.2},{"s":"Age","x":33,"y":37.2},{"s":"Age","x":37.4,"y":37.2},{"s":"Age","x":40.9,"y":37.2},{"s":"Age","x":43,"y":52.6},{"s":"Age","x":49,"y":58.2},{"s":"Age","x":55.7,"y":58.2},{"s":"Age","x":57.5,"y":58.2},{"s":"Age","x":59.5,"y":58.2},{"s":"Age","x":61.5,"y":58.2},{"s":"Age","x":63.3,"y":58.2},{"s":"Age","x":65.1,"y":58.2},{"s":"Age","x":65.1,"y":68.5},{"s":"Age","x":66.4,"y":68.5},{"s":"Age","x":69,"y":68.5},{"s":"Age","x":71.5,"y":68.5},{"s":"Age","x":73.8,"y":68.5},{"s":"Age","x":73.8,"y":73.7},{"s":"Age","x":75.8,"y":73.7},{"s":"Age","x":75.8,"y":78.9},{"s":"Age","x":77.9,"y":78.9},{"s":"Age","x":77.9,"y":84.2},{"s":"Age","x":79.9,"y":84.2},{"s":"Age","x":79.9,"y":89.5},{"s":"Age","x":82,"y":89.5},{"s":"Age","x":84,"y":89.5},{"s":"Age","x":85.2,"y":94.6},{"s":"Age","x":90,"y":94.6},{"s":"Age","x":94.6,"y":94.6},{"s":"Age","x":98.7,"y":94.6},{"s":"Age","x":98.7,"y":100},{"s":"Age","x":100,"y":100}
 ],
 "one":[{}]
},
"concat":[
 {
  "width":252,"height":232,
  "title":{"text":"A","dx":-87,"dy":15.5},
  "layer":[
   {"data":{"name":"calA"},"mark":{"type":"line","clip":true,"strokeWidth":1.1},
    "encoding":{
     "x":{"field":"x","type":"quantitative","scale":{"domain":[-0.0468,1.0255],"nice":false,"zero":false},
      "axis":{"orient":"bottom","values":[0,0.2,0.4,0.6,0.8,1],"labelExpr":"datum.value == 0 ? '0' : format(datum.value, '.1f')","labelFontSize":16,"tickSize":5,"labelPadding":4,"grid":false,"title":["Strategy-predicted probability of","unfavorable outcome at discharge"],"titleFontSize":16,"titleY":31,"titleBaseline":"top","titleLineHeight":20}},
     "y":{"field":"y","type":"quantitative","scale":{"domain":[-0.056,1.028],"nice":false,"zero":false},
      "axis":{"values":[0,0.2,0.4,0.6,0.8,1],"labelExpr":"datum.value == 0 ? '0' : format(datum.value, '.1f')","labelFontSize":16,"tickSize":5,"labelPadding":1,"grid":false,"title":["Actual probability of unfavorable","outcome at discharge"],"titleFontSize":16,"titleX":-69,"titleY":134,"titleAngle":270,"titleBaseline":"top","titleAlign":"center","titleLineHeight":19}},
     "color":{"field":"s","type":"nominal","scale":{"domain":["Apparent","Bias-corrected","Ideal"],"range":["#a8a8a8","#555555","#808080"]},
      "legend":{"orient":"none","legendX":96,"legendY":143,"title":null,"symbolType":"stroke","symbolSize":400,"symbolStrokeWidth":1.2,"labelFontSize":16,"labelOffset":21,"rowPadding":5.5,"padding":0}},
     "strokeDash":{"field":"s","type":"nominal","scale":{"domain":["Apparent","Bias-corrected","Ideal"],"range":[[2,2],[1,0],[4,3]]},
      "legend":{"orient":"none","legendX":96,"legendY":143,"title":null,"symbolType":"stroke","symbolSize":400,"symbolStrokeWidth":1.2,"labelFontSize":16,"labelOffset":21,"rowPadding":5.5,"padding":0}}
    }},
   {"data":{"name":"rugA"},"mark":{"type":"rule","color":"#333333","strokeWidth":0.8},
    "encoding":{"x":{"field":"x","type":"quantitative","scale":{"domain":[-0.0468,1.0255],"nice":false,"zero":false}},"y":{"datum":1.009,"scale":{"domain":[-0.056,1.028],"nice":false,"zero":false}},"y2":{"datum":1.028}}}
  ]
 },
 {
  "width":262,"height":232,
  "title":{"text":"B","dx":-98,"dy":10},
  "layer":[
   {"data":{"name":"calB"},"mark":{"type":"line","clip":true,"strokeWidth":1.1},
    "encoding":{
     "x":{"field":"x","type":"quantitative","scale":{"domain":[-0.0348,0.9778],"nice":false,"zero":false},
      "axis":{"orient":"bottom","values":[0,0.2,0.4,0.6,0.8],"labelExpr":"datum.value == 0 ? '0' : format(datum.value, '.1f')","labelFontSize":16,"tickSize":5,"labelPadding":4,"grid":false,"title":["Strategy-predicted probability of","unfavorable outcome at discharge"],"titleFontSize":16,"titleY":31,"titleBaseline":"top","titleLineHeight":20}},
     "y":{"field":"y","type":"quantitative","scale":{"domain":[-0.049,0.988],"nice":false,"zero":false},
      "axis":{"values":[0,0.2,0.4,0.6,0.8],"labelExpr":"datum.value == 0 ? '0' : format(datum.value, '.1f')","labelFontSize":16,"tickSize":5,"labelPadding":1,"grid":false,"title":["Actual probability of unfavorable","outcome at discharge"],"titleFontSize":16,"titleX":-69,"titleY":134,"titleAngle":270,"titleBaseline":"top","titleAlign":"center","titleLineHeight":19}},
     "color":{"field":"s","type":"nominal","scale":{"domain":["Apparent","Bias-corrected","Ideal"],"range":["#a8a8a8","#555555","#808080"]},
      "legend":{"orient":"none","legendX":119,"legendY":142,"title":null,"symbolType":"stroke","symbolSize":169,"symbolStrokeWidth":1.2,"labelFontSize":16,"labelOffset":12,"rowPadding":9.5,"padding":0}},
     "strokeDash":{"field":"s","type":"nominal","scale":{"domain":["Apparent","Bias-corrected","Ideal"],"range":[[2,2],[1,0],[4,3]]},
      "legend":{"orient":"none","legendX":119,"legendY":142,"title":null,"symbolType":"stroke","symbolSize":169,"symbolStrokeWidth":1.2,"labelFontSize":16,"labelOffset":12,"rowPadding":9.5,"padding":0}}
    }},
   {"data":{"name":"rugB"},"mark":{"type":"rule","color":"#333333","strokeWidth":0.8},
    "encoding":{"x":{"field":"x","type":"quantitative","scale":{"domain":[-0.0348,0.9778],"nice":false,"zero":false}},"y":{"datum":0.966,"scale":{"domain":[-0.049,0.988],"nice":false,"zero":false}},"y2":{"datum":0.988}}}
  ]
 },
 {
  "width":252,"height":231,
  "title":{"text":"C","dx":-87,"dy":21},
  "layer":[
   {"data":{"name":"netC"},"mark":{"type":"line","clip":true,"strokeWidth":1.3},
    "encoding":{
     "x":{"field":"x","type":"quantitative","scale":{"domain":[-0.0429,1.0386],"nice":false,"zero":false},
      "axis":{"orient":"bottom","values":[0,0.2,0.4,0.6,0.8,1],"labelExpr":"datum.value == 0 ? '0' : format(datum.value, '.1f')","labelFontSize":15,"tickSize":5,"labelPadding":5,"grid":true,"gridColor":"#ededed","title":"Threshold probability","titleFontSize":15,"titleY":40,"titleBaseline":"top"}},
     "y":{"field":"y","type":"quantitative","scale":{"domain":[-0.0585,0.2205],"nice":false,"zero":false},
      "axis":{"values":[-0.05,0,0.05,0.1,0.15,0.2],"labelExpr":"datum.value == 0 ? '0' : format(datum.value, '.2f')","labelFontSize":15,"tickSize":5,"labelPadding":3,"grid":true,"gridColor":"#ededed","title":"Net benefit","titleFontSize":15,"titleX":-62,"titleY":117.5,"titleAngle":270,"titleBaseline":"top","titleAlign":"center"}},
     "color":{"field":"s","type":"nominal","scale":{"domain":["TBI patient outcome prediction nonogram","_","All","None"],"range":["#2b2bff","rgba(0,0,0,0)","#bdbdbd","#555555"]},
      "legend":{"orient":"none","legendX":88,"legendY":9.5,"title":null,"symbolType":"stroke","symbolSize":225,"symbolStrokeWidth":1.5,"labelFontSize":15,"labelOffset":4,"rowPadding":2.7,"padding":0,
       "labelExpr":"datum.label == '_' ? 'prediction nonogram' : (datum.label == 'All' || datum.label == 'None') ? datum.label : 'TBI patient outcome'"}}
    }}
  ]
 },
 {
  "width":262,"height":231,
  "title":{"text":"D","dx":-96,"dy":24.5},
  "layer":[
   {"data":{"name":"netD"},"mark":{"type":"line","clip":true,"strokeWidth":1.3},
    "encoding":{
     "x":{"field":"x","type":"quantitative","scale":{"domain":[-0.0369,1.0369],"nice":false,"zero":false},
      "axis":{"orient":"bottom","values":[0,0.2,0.4,0.6,0.8,1],"labelExpr":"datum.value == 0 ? '0' : format(datum.value, '.1f')","labelFontSize":15,"tickSize":5,"labelPadding":5,"grid":true,"gridColor":"#ededed","title":"Threshold probability","titleFontSize":15,"titleY":39,"titleBaseline":"top"}},
     "y":{"field":"y","type":"quantitative","scale":{"domain":[-0.0569,0.208],"nice":false,"zero":false},
      "axis":{"values":[-0.05,0,0.05,0.1,0.15,0.2],"labelExpr":"datum.value == 0 ? '0' : format(datum.value, '.2f')","labelFontSize":15,"tickSize":5,"labelPadding":3,"grid":true,"gridColor":"#ededed","title":"Net benefit","titleFontSize":15,"titleX":-63,"titleY":117,"titleAngle":270,"titleBaseline":"top","titleAlign":"center"}},
     "color":{"field":"s","type":"nominal","scale":{"domain":["TBI patient outcome prediction nonogram","_","All","None"],"range":["#2b2bff","rgba(0,0,0,0)","#bdbdbd","#555555"]},
      "legend":{"orient":"none","legendX":98,"legendY":8,"title":null,"symbolType":"stroke","symbolSize":196,"symbolStrokeWidth":1.5,"labelFontSize":15,"labelOffset":6,"rowPadding":3.3,"padding":0,
       "labelExpr":"datum.label == '_' ? 'prediction nonogram' : (datum.label == 'All' || datum.label == 'None') ? datum.label : 'TBI patient outcome'"}}
    }}
  ]
 },
 {
  "width":252,"height":230,
  "title":{"text":"E","dx":-85,"dy":25},
  "layer":[
   {"data":{"name":"diag"},"mark":{"type":"line","color":"#f2b3b3","strokeWidth":1},
    "encoding":{"x":{"field":"x","type":"quantitative","scale":{"domain":[-3.33,101.67],"nice":false,"zero":false}},"y":{"field":"y","type":"quantitative","scale":{"domain":[-1.83,103.2],"nice":false,"zero":false}}}},
   {"data":{"name":"ciE"},"mark":{"type":"line","color":"#9c9ce2","strokeWidth":1},
    "encoding":{"x":{"field":"x","type":"quantitative","scale":{"domain":[-3.33,101.67],"nice":false,"zero":false}},"y":{"field":"y","type":"quantitative","scale":{"domain":[-1.83,103.2],"nice":false,"zero":false}},"detail":{"field":"b"},"order":[{"field":"x","type":"quantitative"},{"field":"y","type":"quantitative"}]}},
   {"data":{"name":"rocE"},"mark":{"type":"line","color":"#3535c4","strokeWidth":1.6},
    "encoding":{
     "x":{"field":"x","type":"quantitative","scale":{"domain":[-3.33,101.67],"nice":false,"zero":false},"axis":{"orient":"bottom","values":[0,20,40,60,80,100],"labelFontSize":16,"tickSize":5,"labelPadding":7,"grid":true,"gridColor":"#dcdcdc","title":"1-Specificity","titleFontSize":15,"titleY":41,"titleBaseline":"top"}},
     "y":{"field":"y","type":"quantitative","scale":{"domain":[-1.83,103.2],"nice":false,"zero":false},"axis":{"values":[0,20,40,60,80,100],"labelFontSize":16,"tickSize":4,"labelPadding":2,"grid":true,"gridColor":"#dcdcdc","title":"Sensitivity","titleFontSize":15,"titleX":-60,"titleY":117,"titleAngle":270,"titleBaseline":"top","titleAlign":"center"}},
     "order":[{"field":"x","type":"quantitative"},{"field":"y","type":"quantitative"}]}},
   {"data":{"name":"rocE"},"mark":{"type":"point","shape":"square","filled":true,"fill":"#ff5a1a","stroke":"#c04ab8","strokeWidth":1,"size":36,"opacity":1},
    "encoding":{"x":{"field":"x","type":"quantitative","scale":{"domain":[-3.33,101.67],"nice":false,"zero":false}},"y":{"field":"y","type":"quantitative","scale":{"domain":[-1.83,103.2],"nice":false,"zero":false}}}},
   {"data":{"name":"one"},"mark":{"type":"rect","fill":"#ffffff","stroke":"#222222","strokeWidth":1.5},
    "encoding":{"x":{"datum":31.5,"scale":{"domain":[-3.33,101.67],"nice":false,"zero":false}},"x2":{"datum":100.4},"y":{"datum":2.9,"scale":{"domain":[-1.83,103.2],"nice":false,"zero":false}},"y2":{"datum":23.7}}},
   {"data":{"name":"one"},"mark":{"type":"text","text":["AUC = 0.926","(95% CI: 0.877- 0.959)"],"align":"left","baseline":"top","fontSize":15,"lineHeight":18.7,"color":"#111111"},
    "encoding":{"x":{"datum":34.4,"scale":{"domain":[-3.33,101.67],"nice":false,"zero":false}},"y":{"datum":19.0,"scale":{"domain":[-1.83,103.2],"nice":false,"zero":false}}}},
   {"data":{"name":"one"},"mark":{"type":"text","text":"Model","align":"center","baseline":"alphabetic","fontSize":16,"fontWeight":"bold","color":"#111111"},
    "encoding":{"x":{"datum":50,"scale":{"domain":[-3.33,101.67],"nice":false,"zero":false}},"y":{"datum":105.5,"scale":{"domain":[-1.83,103.2],"nice":false,"zero":false}}}}
  ]
 },
 {
  "width":262,"height":230,
  "title":{"text":"F","dx":-94,"dy":24.7},
  "layer":[
   {"data":{"name":"diag"},"mark":{"type":"line","color":"#f2b3b3","strokeWidth":1},
    "encoding":{"x":{"field":"x","type":"quantitative","scale":{"domain":[-3.66,102.85],"nice":false,"zero":false}},"y":{"field":"y","type":"quantitative","scale":{"domain":[-2.3,103.7],"nice":false,"zero":false}}}},
   {"data":{"name":"ciF"},"mark":{"type":"line","color":"#9c9ce2","strokeWidth":1},
    "encoding":{"x":{"field":"x","type":"quantitative","scale":{"domain":[-3.66,102.85],"nice":false,"zero":false}},"y":{"field":"y","type":"quantitative","scale":{"domain":[-2.3,103.7],"nice":false,"zero":false}},"detail":{"field":"b"},"order":[{"field":"x","type":"quantitative"},{"field":"y","type":"quantitative"}]}},
   {"data":{"name":"rocF"},"mark":{"type":"line","color":"#3535c4","strokeWidth":1.6},
    "encoding":{
     "x":{"field":"x","type":"quantitative","scale":{"domain":[-3.66,102.85],"nice":false,"zero":false},"axis":{"orient":"bottom","values":[0,20,40,60,80,100],"labelFontSize":16,"tickSize":5,"labelPadding":6,"grid":true,"gridColor":"#dcdcdc","title":"1-Specificity","titleFontSize":15,"titleY":39,"titleBaseline":"top"}},
     "y":{"field":"y","type":"quantitative","scale":{"domain":[-2.3,103.7],"nice":false,"zero":false},"axis":{"values":[0,20,40,60,80,100],"labelFontSize":16,"tickSize":4,"labelPadding":2,"grid":true,"gridColor":"#dcdcdc","title":"Sensitivity","titleFontSize":15,"titleX":-62,"titleY":116,"titleAngle":270,"titleBaseline":"top","titleAlign":"center"}},
     "order":[{"field":"x","type":"quantitative"},{"field":"y","type":"quantitative"}]}},
   {"data":{"name":"rocF"},"mark":{"type":"point","shape":"square","filled":true,"fill":"#ff5a1a","stroke":"#c04ab8","strokeWidth":1,"size":36,"opacity":1},
    "encoding":{"x":{"field":"x","type":"quantitative","scale":{"domain":[-3.66,102.85],"nice":false,"zero":false}},"y":{"field":"y","type":"quantitative","scale":{"domain":[-2.3,103.7],"nice":false,"zero":false}}}},
   {"data":{"name":"one"},"mark":{"type":"rect","fill":"#ffffff","stroke":"#222222","strokeWidth":1.5},
    "encoding":{"x":{"datum":33.9,"scale":{"domain":[-3.66,102.85],"nice":false,"zero":false}},"x2":{"datum":100.7},"y":{"datum":3.7,"scale":{"domain":[-2.3,103.7],"nice":false,"zero":false}},"y2":{"datum":24.7}}},
   {"data":{"name":"one"},"mark":{"type":"text","text":["AUC = 0.959","(95% CI: 0.902- 0.988)"],"align":"left","baseline":"top","fontSize":15,"lineHeight":19.3,"color":"#111111"},
    "encoding":{"x":{"datum":36.6,"scale":{"domain":[-3.66,102.85],"nice":false,"zero":false}},"y":{"datum":20.5,"scale":{"domain":[-2.3,103.7],"nice":false,"zero":false}}}},
   {"data":{"name":"one"},"mark":{"type":"text","text":"Model","align":"center","baseline":"alphabetic","fontSize":16,"fontWeight":"bold","color":"#111111"},
    "encoding":{"x":{"datum":48.8,"scale":{"domain":[-3.66,102.85],"nice":false,"zero":false}},"y":{"datum":105.4,"scale":{"domain":[-2.3,103.7],"nice":false,"zero":false}}}}
  ]
 },
 {
  "width":252,"height":228,
  "title":{"text":"G","dx":-87,"dy":25.7},
  "layer":[
   {"data":{"name":"diag"},"mark":{"type":"line","color":"#f2c0c0","strokeWidth":1},
    "encoding":{"x":{"field":"x","type":"quantitative","scale":{"domain":[-3.33,101.67],"nice":false,"zero":false}},"y":{"field":"y","type":"quantitative","scale":{"domain":[-3.67,100.92],"nice":false,"zero":false}}}},
   {"data":{"name":"rocG"},"mark":{"type":"line","strokeWidth":1.4},
    "encoding":{
     "x":{"field":"x","type":"quantitative","scale":{"domain":[-3.33,101.67],"nice":false,"zero":false},"axis":{"orient":"bottom","values":[0,20,40,60,80,100],"labelFontSize":16,"tickSize":5,"labelPadding":4,"grid":true,"gridColor":"#dcdcdc","title":"1-Specificity","titleFontSize":15,"titleY":34,"titleBaseline":"top"}},
     "y":{"field":"y","type":"quantitative","scale":{"domain":[-3.67,100.92],"nice":false,"zero":false},"axis":{"values":[0,20,40,60,80,100],"labelFontSize":16,"tickSize":4,"labelPadding":2,"grid":true,"gridColor":"#dcdcdc","title":"Sensitivity","titleFontSize":15,"titleX":-60,"titleY":110,"titleAngle":270,"titleBaseline":"top","titleAlign":"center"}},
     "color":{"field":"s","type":"nominal","scale":{"domain":["Age","GCS","MONO","GLU","Marshall"],"range":["#5a5ad6","#2f9a3f","#ff8a3d","#2f8f3f","#ff46ff"]},
      "legend":{"orient":"none","legendX":144,"legendY":120,"title":null,"symbolType":"stroke","symbolSize":441,"symbolStrokeWidth":2,"labelFontSize":16,"labelOffset":9,"rowPadding":-1.6,"padding":4,"strokeColor":"#222222","fillColor":"#ffffff"}},
     "strokeDash":{"field":"s","type":"nominal","scale":{"domain":["Age","GCS","MONO","GLU","Marshall"],"range":[[1,0],[1,0],[1,0],[5,2,1,2],[5,2,1,2,1,2]]},
      "legend":{"orient":"none","legendX":144,"legendY":120,"title":null,"symbolType":"stroke","symbolSize":441,"symbolStrokeWidth":2,"labelFontSize":16,"labelOffset":9,"rowPadding":-1.6,"padding":4,"strokeColor":"#222222","fillColor":"#ffffff"}},
     "order":[{"field":"x","type":"quantitative"},{"field":"y","type":"quantitative"}]}},
   {"data":{"name":"rocG"},"mark":{"type":"point","filled":true,"opacity":1,"strokeWidth":1},
    "encoding":{
     "x":{"field":"x","type":"quantitative","scale":{"domain":[-3.33,101.67],"nice":false,"zero":false}},"y":{"field":"y","type":"quantitative","scale":{"domain":[-3.67,100.92],"nice":false,"zero":false}},
     "shape":{"field":"s","type":"nominal","scale":{"domain":["GCS","Age","MONO","GLU","Marshall"],"range":["circle","square","triangle-up","square","triangle-up"]},"legend":null},
     "fill":{"field":"s","type":"nominal","scale":{"domain":["GCS","Age","MONO","GLU","Marshall"],"range":["#1a1aa8","#ff5a1a","#ffffff","#1a1a8c","#e8502a"]},"legend":null},
     "stroke":{"field":"s","type":"nominal","scale":{"domain":["GCS","Age","MONO","GLU","Marshall"],"range":["#e6c21a","#e0407a","#2ea04a","#e020e0","#ff7a50"]},"legend":null},
     "size":{"field":"s","type":"nominal","scale":{"type":"ordinal","domain":["GCS","Age","MONO","GLU","Marshall"],"range":[25,36,55,40,50]},"legend":null}
    }},
   {"data":{"name":"one"},"mark":{"type":"text","text":"ROC","align":"center","baseline":"alphabetic","fontSize":16,"fontWeight":"bold","color":"#111111"},
    "encoding":{"x":{"datum":50,"scale":{"domain":[-3.33,101.67],"nice":false,"zero":false}},"y":{"datum":104.0,"scale":{"domain":[-3.67,100.92],"nice":false,"zero":false}}}}
  ]
 },
 {
  "width":262,"height":228,
  "title":{"text":"H","dx":-96,"dy":25.3},
  "layer":[
   {"data":{"name":"diag"},"mark":{"type":"line","color":"#f2c0c0","strokeWidth":1},
    "encoding":{"x":{"field":"x","type":"quantitative","scale":{"domain":[-2.81,102.41],"nice":false,"zero":false}},"y":{"field":"y","type":"quantitative","scale":{"domain":[-3.21,101.38],"nice":false,"zero":false}}}},
   {"data":{"name":"rocH"},"mark":{"type":"line","strokeWidth":1.4},
    "encoding":{
     "x":{"field":"x","type":"quantitative","scale":{"domain":[-2.81,102.41],"nice":false,"zero":false},"axis":{"orient":"bottom","values":[0,20,40,60,80,100],"labelFontSize":16,"tickSize":5,"labelPadding":1,"grid":true,"gridColor":"#dcdcdc","title":"1-Specificity","titleFontSize":15,"titleY":32,"titleBaseline":"top"}},
     "y":{"field":"y","type":"quantitative","scale":{"domain":[-3.21,101.38],"nice":false,"zero":false},"axis":{"values":[0,20,40,60,80,100],"labelFontSize":16,"tickSize":4,"labelPadding":2,"grid":true,"gridColor":"#dcdcdc","title":"Sensitivity","titleFontSize":15,"titleX":-64,"titleY":109,"titleAngle":270,"titleBaseline":"top","titleAlign":"center"}},
     "color":{"field":"s","type":"nominal","scale":{"domain":["Age","GCS","MONO","GLU","Marshall"],"range":["#5a5ad6","#2f9a3f","#ff8a3d","#2f8f3f","#ff46ff"]},
      "legend":{"orient":"none","legendX":154,"legendY":117,"title":null,"symbolType":"stroke","symbolSize":441,"symbolStrokeWidth":2,"labelFontSize":16,"labelOffset":9,"rowPadding":-1.6,"padding":4,"strokeColor":"#222222","fillColor":"#ffffff"}},
     "strokeDash":{"field":"s","type":"nominal","scale":{"domain":["Age","GCS","MONO","GLU","Marshall"],"range":[[1,0],[1,0],[1,0],[5,2,1,2],[5,2,1,2,1,2]]},
      "legend":{"orient":"none","legendX":154,"legendY":117,"title":null,"symbolType":"stroke","symbolSize":441,"symbolStrokeWidth":2,"labelFontSize":16,"labelOffset":9,"rowPadding":-1.6,"padding":4,"strokeColor":"#222222","fillColor":"#ffffff"}},
     "order":[{"field":"x","type":"quantitative"},{"field":"y","type":"quantitative"}]}},
   {"data":{"name":"rocH"},"mark":{"type":"point","filled":true,"opacity":1,"strokeWidth":1},
    "encoding":{
     "x":{"field":"x","type":"quantitative","scale":{"domain":[-2.81,102.41],"nice":false,"zero":false}},"y":{"field":"y","type":"quantitative","scale":{"domain":[-3.21,101.38],"nice":false,"zero":false}},
     "shape":{"field":"s","type":"nominal","scale":{"domain":["GCS","Age","MONO","GLU","Marshall"],"range":["circle","square","triangle-up","square","triangle-up"]},"legend":null},
     "fill":{"field":"s","type":"nominal","scale":{"domain":["GCS","Age","MONO","GLU","Marshall"],"range":["#1a1aa8","#ff5a1a","#ffffff","#1a1a8c","#e8502a"]},"legend":null},
     "stroke":{"field":"s","type":"nominal","scale":{"domain":["GCS","Age","MONO","GLU","Marshall"],"range":["#e6c21a","#e0407a","#2ea04a","#e020e0","#ff7a50"]},"legend":null},
     "size":{"field":"s","type":"nominal","scale":{"type":"ordinal","domain":["GCS","Age","MONO","GLU","Marshall"],"range":[25,36,55,40,50]},"legend":null}
    }},
   {"data":{"name":"one"},"mark":{"type":"text","text":"ROC","align":"center","baseline":"alphabetic","fontSize":16,"fontWeight":"bold","color":"#111111"},
    "encoding":{"x":{"datum":50.3,"scale":{"domain":[-2.81,102.41],"nice":false,"zero":false}},"y":{"datum":104.3,"scale":{"domain":[-3.21,101.38],"nice":false,"zero":false}}}}
  ]
 }
]
}
